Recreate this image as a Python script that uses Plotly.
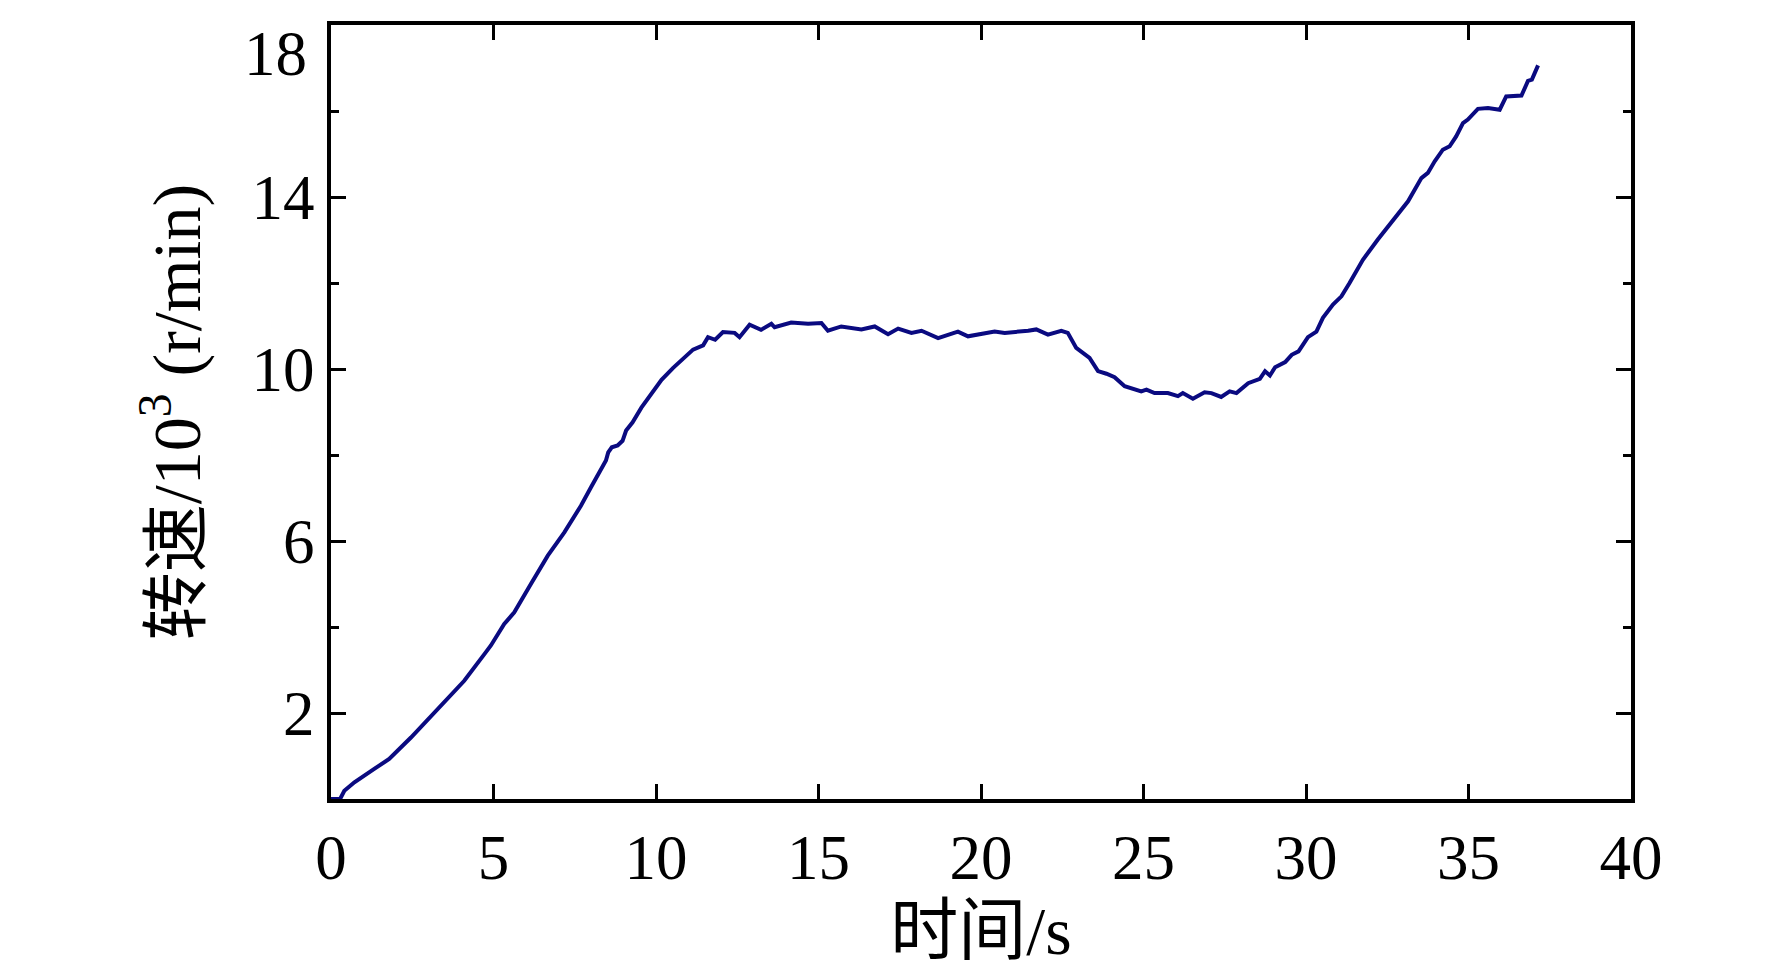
import plotly.graph_objects as go

# 时间 (s) 与 转速 (10^3 r/min)
tempo = [0, 0.28, 0.41, 0.72, 1.33, 1.79, 2.46, 3.28, 4.10, 4.72, 4.92, 5.33, 5.64,
         6.15, 6.67, 7.18, 7.69, 8.0, 8.46, 8.53, 8.64, 8.82, 8.97, 9.08, 9.28, 9.55,
         10.17, 10.52, 10.78, 11.14, 11.45, 11.60, 11.82, 12.06, 12.42, 12.57, 12.88,
         13.23, 13.55, 13.65, 14.16, 14.68, 15.09, 15.29, 15.70, 16.32, 16.73, 17.14,
         17.45, 17.86, 18.17, 18.68, 19.29, 19.60, 20.42, 20.73, 21.45, 21.70, 22.06,
         22.47, 22.67, 22.93, 23.34, 23.60, 23.86, 24.11, 24.42, 24.93, 25.09, 25.34,
         25.75, 26.06, 26.21, 26.52, 26.88, 27.09, 27.39, 27.65, 27.86, 28.22, 28.58,
         28.74, 28.89, 29.05, 29.36, 29.56, 29.77, 30.06, 30.32, 30.52, 30.83, 31.09,
         31.34, 31.75, 32.21, 32.58, 33.14, 33.55, 33.75, 33.96, 34.21, 34.42, 34.62,
         34.83, 34.98, 35.29, 35.60, 35.96, 36.16, 36.63, 36.83, 36.95, 37.14]
rotacao = [0, 0, 0.19, 0.39, 0.70, 0.93, 1.43, 2.09, 2.75, 3.37, 3.57, 4.07, 4.34,
           5.0, 5.66, 6.2, 6.82, 7.25, 7.87, 8.06, 8.18, 8.22, 8.33, 8.57, 8.76, 9.1,
           9.75, 10.02, 10.19, 10.45, 10.55, 10.74, 10.68, 10.86, 10.84, 10.74, 11.03,
           10.91, 11.05, 10.97, 11.08, 11.05, 11.07, 10.89, 10.99, 10.92, 10.99, 10.81,
           10.94, 10.84, 10.89, 10.72, 10.87, 10.76, 10.87, 10.84, 10.89, 10.92, 10.80,
           10.89, 10.84, 10.49, 10.26, 9.95, 9.89, 9.81, 9.60, 9.48, 9.52, 9.44,
           9.44, 9.37, 9.44, 9.31, 9.46, 9.44, 9.35, 9.48, 9.44, 9.67, 9.77,
           9.95, 9.85, 10.04, 10.16, 10.33, 10.41, 10.74, 10.87, 11.19, 11.50, 11.69,
           12.0, 12.54, 13.01, 13.36, 13.90, 14.44, 14.56, 14.83, 15.10, 15.18, 15.41,
           15.72, 15.80, 16.05, 16.07, 16.03, 16.34, 16.36, 16.70, 16.73, 17.06]

x_ticks = [0, 5, 10, 15, 20, 25, 30, 35, 40]
y_ticks = [2, 6, 10, 14, 18]
y_labels = ['2', '6', '10', '14', '']  # 18 画成注释, 以免顶部被截
y_minor = [4, 8, 12, 16]

fonte = 'Liberation Serif, Times New Roman, Noto Sans CJK SC'

fig = go.Figure(go.Scatter(x=tempo, y=rotacao, mode='lines',
                           line=dict(color='#0a0a80', width=4), showlegend=False))

fig.update_layout(
    width=1772, height=971,
    margin=dict(l=323, r=149, t=17, b=180),
    plot_bgcolor='white', paper_bgcolor='white',
    font=dict(family=fonte, size=63, color='black'),
)
fig.update_xaxes(
    range=[0, 40], tickvals=x_ticks, ticks='inside', ticklen=15, tickwidth=3,
    showline=True, linewidth=4, linecolor='black', mirror='allticks',
    showgrid=False, zeroline=False, tickcolor='black',
    title=dict(text='时间/s', standoff=0, font=dict(family=fonte, size=68)),
)
fig.update_yaxes(
    range=[0, 18], tickvals=y_ticks, ticktext=y_labels, ticks='inside', ticklen=15, tickwidth=3,
    showline=True, linewidth=4, linecolor='black', mirror='allticks',
    showgrid=False, zeroline=False, tickcolor='black',
    minor=dict(tickvals=y_minor, ticks='inside', ticklen=8, tickwidth=3, tickcolor='black', showgrid=False),
    title=dict(text='转速/10<sup>3</sup> (r/min)', standoff=30, font=dict(family=fonte, size=68)),
)
fig.add_annotation(text=str(y_ticks[-1]), xref='paper', x=0, yref='y', y=y_ticks[-1],
                   xanchor='right', yanchor='top', xshift=-22, yshift=8, showarrow=False)

fig.write_html("out.html")
